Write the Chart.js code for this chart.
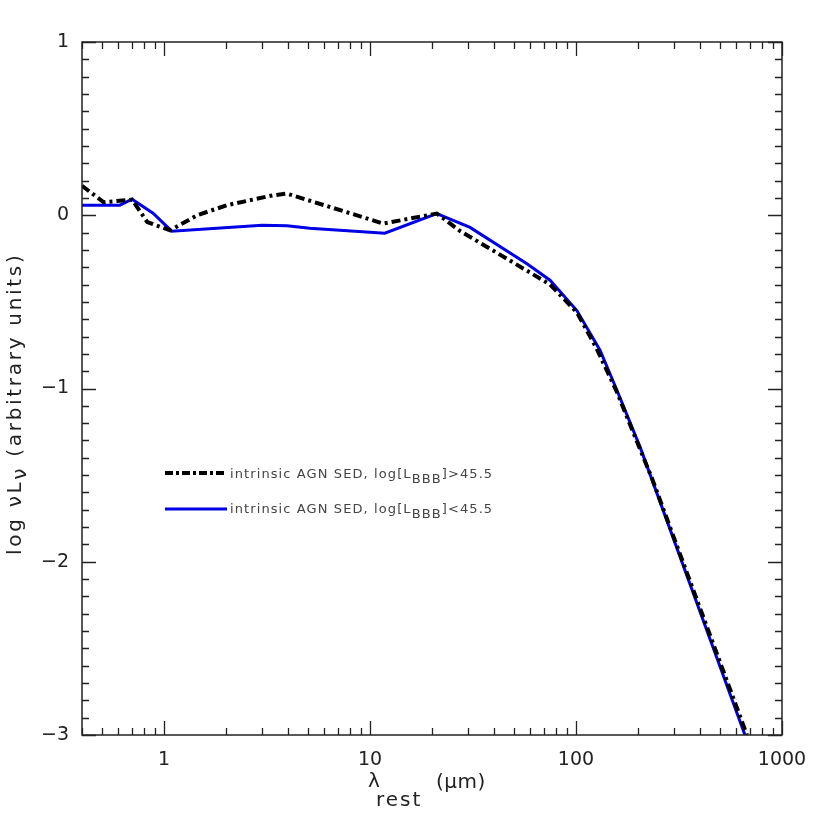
<!DOCTYPE html>
<html>
<head>
<meta charset="utf-8">
<script src="https://cdn.jsdelivr.net/npm/chart.js@4.4.1/dist/chart.umd.min.js"></script>
<style>
  html, body { margin: 0; padding: 0; background: #fff; }
  #sed { display: block; }
</style>
</head>
<body>
<canvas id="sed" width="822" height="822"></canvas>
<script>
// values (x = rest wavelength in micron, y = log nuL_nu)
const highLumWave = [0.40, 0.51, 0.63, 0.70, 0.83, 1.07, 1.45, 2.02, 3.38, 3.95, 11.6, 21.1, 27.3, 57.8, 74.8, 101, 126, 158, 189, 234, 676];
const highLumSed  = [0.17, 0.075, 0.085, 0.09, -0.04, -0.087, 0.0, 0.058, 0.115, 0.125, -0.048, 0.01, -0.09, -0.32, -0.40, -0.56, -0.77, -1.02, -1.25, -1.52, -3.0];

const lowLumWave = [0.40, 0.61, 0.70, 0.885, 1.09, 3.0, 3.95, 5.1, 11.8, 21.1, 30.6, 57.8, 74.8, 101, 131, 158, 205, 661];
const lowLumSed  = [0.058, 0.058, 0.093, 0.012, -0.092, -0.058, -0.06, -0.075, -0.104, 0.01, -0.07, -0.28, -0.375, -0.55, -0.78, -1.01, -1.34, -3.0];

const xTickValues = [1, 10, 100, 1000];
const yTickValues = [-3, -2, -1, 0, 1];

const FONT = "'DejaVu Sans', sans-serif";
const INK = "#222";

function toPoints(xs, ys) {
    return xs.map((x, i) => ({ x: x, y: ys[i] }));
}

// frame, inward ticks on all four sides, axis titles and the legend
const decorations = {
    id: "decorations",
    afterDraw(chart) {
        const ctx = chart.ctx;
        const a = chart.chartArea;
        const xs = chart.scales.x;
        const ys = chart.scales.y;
        ctx.save();
        ctx.strokeStyle = INK;
        ctx.lineWidth = 1.5;
        ctx.strokeRect(a.left, a.top, a.right - a.left, a.bottom - a.top);

        ctx.lineWidth = 1.3;
        ctx.beginPath();
        // x ticks (log decades + minors)
        for (let d = 0.1; d <= 1000; d *= 10) {
            for (let k = 1; k <= 9; k++) {
                const v = d * k;
                if (v < 0.4 || v > 1000.001) continue;
                const px = Math.round(xs.getPixelForValue(v)) + 0.5;
                const len = k === 1 ? 14 : 7;
                ctx.moveTo(px, a.bottom); ctx.lineTo(px, a.bottom - len);
                ctx.moveTo(px, a.top); ctx.lineTo(px, a.top + len);
            }
        }
        // y ticks every 0.1
        for (let i = -30; i <= 10; i++) {
            const v = i / 10;
            const py = Math.round(ys.getPixelForValue(v)) + 0.5;
            const len = i % 10 === 0 ? 14 : 7;
            ctx.moveTo(a.left, py); ctx.lineTo(a.left + len, py);
            ctx.moveTo(a.right, py); ctx.lineTo(a.right - len, py);
        }
        ctx.stroke();

        // x title: lambda_rest (mu m)
        ctx.fillStyle = INK;
        ctx.font = "20px " + FONT;
        ctx.textBaseline = "alphabetic";
        ctx.textAlign = "left";
        ctx.fillText("\u03bb", 368, 787);
        ctx.letterSpacing = "2px";
        ctx.fillText("rest", 376, 806);
        ctx.letterSpacing = "0.5px";
        ctx.fillText("(\u03bcm)", 436, 788);
        ctx.letterSpacing = "0px";

        // y title, rotated
        ctx.save();
        ctx.translate(21, 555);
        ctx.rotate(-Math.PI / 2);
        ctx.font = "20px " + FONT;
        ctx.letterSpacing = "2.7px";
        let x = 0;
        const put = (t, dy) => { ctx.fillText(t, x, dy); x += ctx.measureText(t).width; };
        put("log ", 0);
        put("\u03bdL", 0);
        put("\u03bd", 5);
        put(" (arbitrary units)", 0);
        ctx.restore();

        // legend
        ctx.lineWidth = 4;
        ctx.strokeStyle = "#000";
        ctx.setLineDash([8, 3, 3, 3]);
        ctx.beginPath();
        ctx.moveTo(165, 473); ctx.lineTo(227, 473);
        ctx.stroke();
        ctx.setLineDash([]);
        ctx.lineWidth = 3;
        ctx.strokeStyle = "#0000e6";
        ctx.beginPath();
        ctx.moveTo(165, 509); ctx.lineTo(227, 509);
        ctx.stroke();

        ctx.fillStyle = "#444";
        ctx.letterSpacing = "1.1px";
        const legendLine = (y, tail) => {
            let lx = 230;
            ctx.font = "13px " + FONT;
            const head = "intrinsic AGN SED, log[L";
            ctx.fillText(head, lx, y); lx += ctx.measureText(head).width;
            ctx.fillText("BBB", lx, y + 5); lx += ctx.measureText("BBB").width;
            ctx.fillText(tail, lx, y);
        };
        legendLine(478, "]>45.5");
        legendLine(513, "]<45.5");
        ctx.restore();
    }
};

new Chart(document.getElementById("sed").getContext("2d"), {
    type: "line",
    data: {
        datasets: [
            {
                label: "intrinsic AGN SED, log[L_BBB]>45.5",
                data: toPoints(highLumWave, highLumSed),
                borderColor: "#000",
                borderWidth: 4,
                borderDash: [9, 4, 3, 4],
                pointRadius: 0,
                tension: 0,
                fill: false
            },
            {
                label: "intrinsic AGN SED, log[L_BBB]<45.5",
                data: toPoints(lowLumWave, lowLumSed),
                borderColor: "#0000e6",
                borderWidth: 3,
                pointRadius: 0,
                tension: 0,
                fill: false
            }
        ]
    },
    options: {
        responsive: false,
        animation: false,
        devicePixelRatio: 1,
        layout: { padding: { top: 42, right: 40, left: 0, bottom: 0 } },
        plugins: { legend: { display: false }, tooltip: { enabled: false } },
        scales: {
            x: {
                type: "logarithmic",
                min: 0.4,
                max: 1000,
                grid: { display: false, drawTicks: false },
                border: { display: false },
                afterBuildTicks: s => { s.ticks = xTickValues.map(v => ({ value: v })); },
                afterFit: s => { s.height = 87; },
                ticks: {
                    autoSkip: false,
                    maxRotation: 0,
                    padding: 14,
                    color: INK,
                    font: { family: FONT, size: 19 },
                    callback: v => String(v)
                }
            },
            y: {
                type: "linear",
                min: -3,
                max: 1,
                grid: { display: false, drawTicks: false },
                border: { display: false },
                afterBuildTicks: s => { s.ticks = yTickValues.map(v => ({ value: v })); },
                afterFit: s => { s.width = 82; },
                ticks: {
                    padding: 13,
                    color: INK,
                    font: { family: FONT, size: 19 },
                    callback: v => v < 0 ? "\u2212" + (-v) : String(v)
                }
            }
        }
    },
    plugins: [decorations]
});
</script>
</body>
</html>
